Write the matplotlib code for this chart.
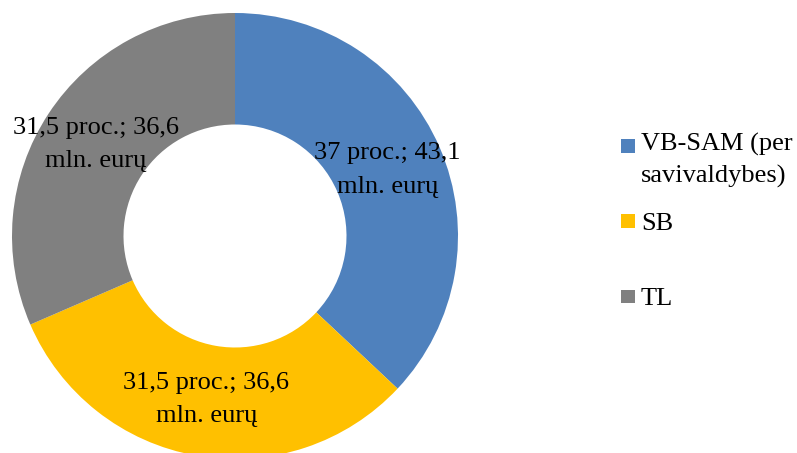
import numpy as np
import matplotlib
matplotlib.use("Agg")
import matplotlib.pyplot as plt
from matplotlib.patches import Rectangle

plt.rcParams['font.family'] = ['Liberation Serif', 'DejaVu Serif']

# data
categories = ['VB-SAM (per\nsavivaldybes)', 'SB', 'TL']
shares = [37, 31.5, 31.5]
amounts = ['43,1', '36,6', '36,6']
colors = ['#4F81BD', '#FFC000', '#808080']

W, H = 797, 453
fig = plt.figure(figsize=(W / 100, H / 100), dpi=100)

# donut: centre (235, 236) px from top-left, outer radius 223 px
cx, cy, R = 235, 236, 223
ax = fig.add_axes([(cx - R) / W, (H - cy - R) / H, 2 * R / W, 2 * R / H])
wedges, _ = ax.pie(shares, colors=colors, startangle=90, counterclock=False,
                   radius=1, wedgeprops=dict(width=0.5, linewidth=0))
ax.set_xlim(-1, 1)
ax.set_ylim(-1, 1)
ax.set_aspect('equal')
ax.axis('off')

# data labels
for w, s, a in zip(wedges, shares, amounts):
    ang = np.deg2rad((w.theta1 + w.theta2) / 2)
    pct = f"{s:g}".replace('.', ',')
    ax.text(0.745 * np.cos(ang), 0.745 * np.sin(ang),
            f"{pct} proc.; {a}\nmln. eurų",
            ha='center', va='center', fontsize=19, linespacing=1.65,
            clip_on=False)

# legend drawn by hand (Excel style: marker aligned to first line)
first_baselines = [155, 230, 305]
line_h = 28
for lab, col, yb in zip(categories, colors, first_baselines):
    sq = 13.5
    fig.patches.append(Rectangle((621 / W, (H - yb + 2) / H), sq / W, sq / H,
                                 transform=fig.transFigure, facecolor=col,
                                 edgecolor='none'))
    last = yb + line_h * lab.count('\n')
    fig.text(641 / W, (H - last) / H, lab, ha='left', va='baseline',
             fontsize=19, linespacing=1.55)

fig.savefig('out.png', dpi=100)
